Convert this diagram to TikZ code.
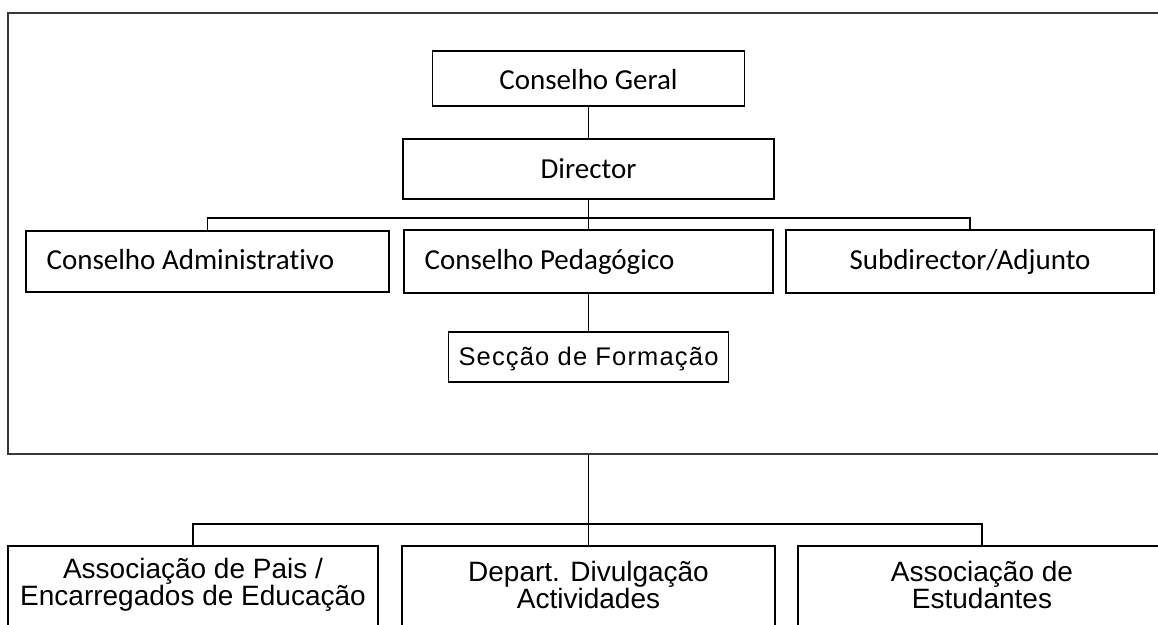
\documentclass[tikz,border=0pt]{standalone}
\usepackage{fontspec}
\setmainfont{Carlito}[Ligatures=NoCommon]
\newfontfamily\pixfont{Liberation Sans}
\newfontfamily\pixwide[LetterSpace=4.6]{Liberation Sans}
\begin{document}
\begin{tikzpicture}[x=1pt,y=-1pt,
  box/.style={draw=black,line width=1.3pt,inner sep=0pt,align=center,
    text height=20pt,text depth=5pt,font=\fontsize{29}{34}\selectfont},
  txt/.style={inner sep=0pt,text height=20pt,text depth=5pt,font=\fontsize{29}{34}\selectfont},
  pbox/.style={draw=black,line width=1.3pt,inner sep=0pt,minimum height=90pt},
  ptxt/.style={inner sep=0pt,align=center,font=\pixfont\fontsize{28}{23}\selectfont},
  framebox/.style={draw=black!78,line width=2pt,inner sep=0pt},
  wire/.style={draw=black,line width=1.3pt}]
\useasboundingbox (0,0) rectangle (1158,624);
\clip (0,0) rectangle (1158,624);
% outer frame (right side lies outside the picture)
\node[framebox,minimum width=1161pt,minimum height=441pt] (frame) at (588.5,233.5) {};
% top part
\node[box,minimum width=312pt,minimum height=55pt,text height=24pt,text depth=3pt] (cg) at (588.5,78.5) {Conselho Geral};
\node[box,minimum width=371pt,minimum height=60pt,text height=22pt,text depth=4pt] (dir) at (588.5,169) {Director};
\node[box,minimum width=363pt,minimum height=61pt] (adm) at (207.5,261.5) {};
\node[txt,anchor=west] (admt) at ([xshift=21pt]adm.west) {Conselho Administrativo};
\node[box,minimum width=369pt,minimum height=63pt] (ped) at (588.5,261.5) {};
\node[txt,anchor=west] (pedt) at ([xshift=21pt]ped.west) {Conselho Pedag\'ogico};
\node[box,minimum width=368pt,minimum height=63pt] (sub) at (970,261.5) {Subdirector/Adjunto};
\node[draw=black,line width=1.3pt,inner sep=0pt,minimum width=280pt,minimum height=50pt,
  text height=20pt,text depth=4pt,
  font=\pixwide\fontsize{25.5}{30}\selectfont] (sec) at (588.5,357) {Secção de Formação};
% bottom part
\node[pbox,minimum width=370pt] (pais) at (193,591) {};
\node[ptxt] (paist) at (193,585) {Associação de Pais /\\Encarregados de Educação};
\node[pbox,minimum width=373pt] (dep) at (588.5,591) {};
\node[ptxt] (dept) at (588.5,585) {Depart. Divulgação\\Actividades};
\node[pbox,minimum width=368pt] (est) at (982,591) {};
\node[ptxt] (estt) at (982,585) {Associação de\\Estudantes};
% connectors
\coordinate (bus) at (588.5,218);
\coordinate (bus2) at (588.5,524);
\draw[wire] (cg.south) -- (dir.north);
\draw[wire] (dir.south) -- (ped.north);
\draw[wire] (adm.north) |- (bus) -| (sub.north);
\draw[wire] (ped.south) -- (sec.north);
\draw[wire] (frame.south) -- (dep.north);
\draw[wire] (pais.north) |- (bus2) -| (est.north);
\end{tikzpicture}
\end{document}
